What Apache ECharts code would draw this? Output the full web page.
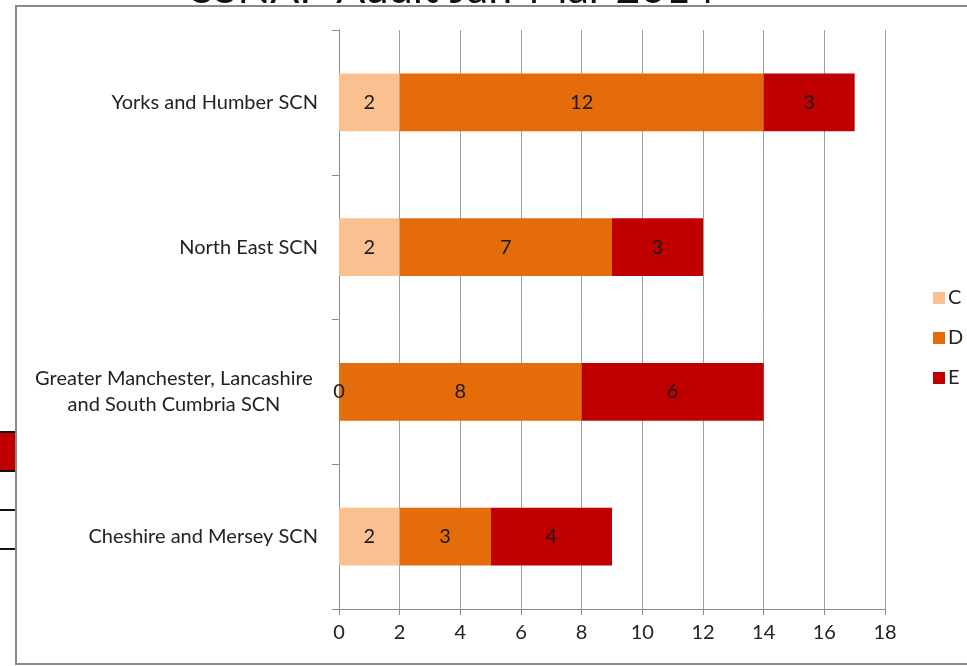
<!DOCTYPE html>
<html>
<head>
<meta charset="utf-8">
<script src="https://cdn.jsdelivr.net/npm/echarts@6/dist/echarts.min.js"></script>
<style>
  html, body { margin: 0; padding: 0; background: #fff; }
  #chart { width: 967px; height: 666px; }
</style>
</head>
<body>
<div id="chart"></div>
<script>
// Stroke networks, bottom to top on the category axis
const categories = [
  'Cheshire and Mersey SCN',
  'Greater Manchester, Lancashire\nand South Cumbria SCN',
  'North East SCN',
  'Yorks and Humber SCN'
];
const seriesNames = ['C', 'D', 'E'];
const valuesC = [2, 0, 2, 2];
const valuesD = [3, 8, 7, 12];
const valuesE = [4, 6, 3, 3];
const xTicks = [0, 2, 4, 6, 8, 10, 12, 14, 16, 18];
const titleText = 'SSNAP Audit Jan-Mar 2014';

const colors = ['#FAC090', '#E46C0A', '#C00000'];
const FONT = 'Lato, "Open Sans", sans-serif';
const FS = 20;
const seriesValues = [valuesC, valuesD, valuesE];

const chart = echarts.init(document.getElementById('chart'), null, { renderer: 'canvas' });

const series = seriesNames.map((name, i) => ({
  name: name,
  type: 'bar',
  stack: 'grade',
  data: seriesValues[i],
  barCategoryGap: '60%',
  itemStyle: { color: colors[i] },
  label: {
    show: true,
    position: 'inside',
    color: '#1a1a1a',
    fontSize: FS,
    fontFamily: FONT
  },
  emphasis: { disabled: true }
}));

chart.setOption({
  animation: false,
  textStyle: { fontFamily: FONT },
  grid: { left: 339, right: 82, top: 30, bottom: 57, containLabel: false },
  legend: {
    data: seriesNames,
    orient: 'vertical',
    left: 928,
    top: 283,
    itemWidth: 12,
    itemHeight: 12,
    itemGap: 20,
    icon: 'rect',
    textStyle: { fontSize: FS, color: '#222', fontFamily: FONT, padding: [0, 0, 0, -2] }
  },
  xAxis: {
    type: 'value',
    min: xTicks[0],
    max: xTicks[xTicks.length - 1],
    interval: 2,
    axisLine: { show: true, lineStyle: { color: '#8c8c8c', width: 1 } },
    axisTick: { show: true, length: 6, lineStyle: { color: '#8c8c8c' } },
    axisLabel: { fontSize: FS, color: '#222', margin: 14, fontFamily: FONT },
    splitLine: { show: true, lineStyle: { color: '#a0a0a0', width: 1 } }
  },
  yAxis: {
    type: 'category',
    data: categories,
    axisLine: { show: true, lineStyle: { color: '#8c8c8c', width: 1 } },
    axisTick: { show: true, length: 7, lineStyle: { color: '#8c8c8c' } },
    axisLabel: {
      fontSize: FS,
      color: '#222',
      margin: 21,
      fontFamily: FONT,
      lineHeight: 26,
      formatter: function (v) {
        if (v.indexOf('\n') < 0) return v;
        return v.split('\n').map(s => '{c|' + s + '}').join('\n');
      },
      rich: {
        c: { width: 288, align: 'center', fontSize: FS, lineHeight: 26, color: '#222', fontFamily: FONT }
      }
    }
  },
  graphic: [
    {
      type: 'text',
      x: 453,
      y: -32,
      style: {
        text: titleText, fontSize: 43, fontFamily: FONT, fill: '#111',
        align: 'center', verticalAlign: 'top'
      },
      z: 1
    },
    // white band keeps the title above the frame line
    { type: 'rect', shape: { x: 17, y: 7, width: 960, height: 20 }, style: { fill: '#fff' }, z: 2 },
    {
      type: 'rect',
      shape: { x: 16, y: 6, width: 1000, height: 658 },
      style: { fill: null, stroke: '#8a8a8a', lineWidth: 2 },
      z: 5
    },
    // table fragment beside the frame
    { type: 'rect', shape: { x: 0, y: 432, width: 15, height: 40 }, style: { fill: '#C00000' }, z: 5 },
    { type: 'line', shape: { x1: 0, y1: 432, x2: 15, y2: 432 }, style: { stroke: '#111', lineWidth: 2 }, z: 6 },
    { type: 'line', shape: { x1: 0, y1: 471, x2: 15, y2: 471 }, style: { stroke: '#111', lineWidth: 2 }, z: 6 },
    { type: 'line', shape: { x1: 0, y1: 510, x2: 15, y2: 510 }, style: { stroke: '#111', lineWidth: 2 }, z: 6 },
    { type: 'line', shape: { x1: 0, y1: 549, x2: 15, y2: 549 }, style: { stroke: '#111', lineWidth: 2 }, z: 6 }
  ],
  series: series
});
</script>
</body>
</html>
